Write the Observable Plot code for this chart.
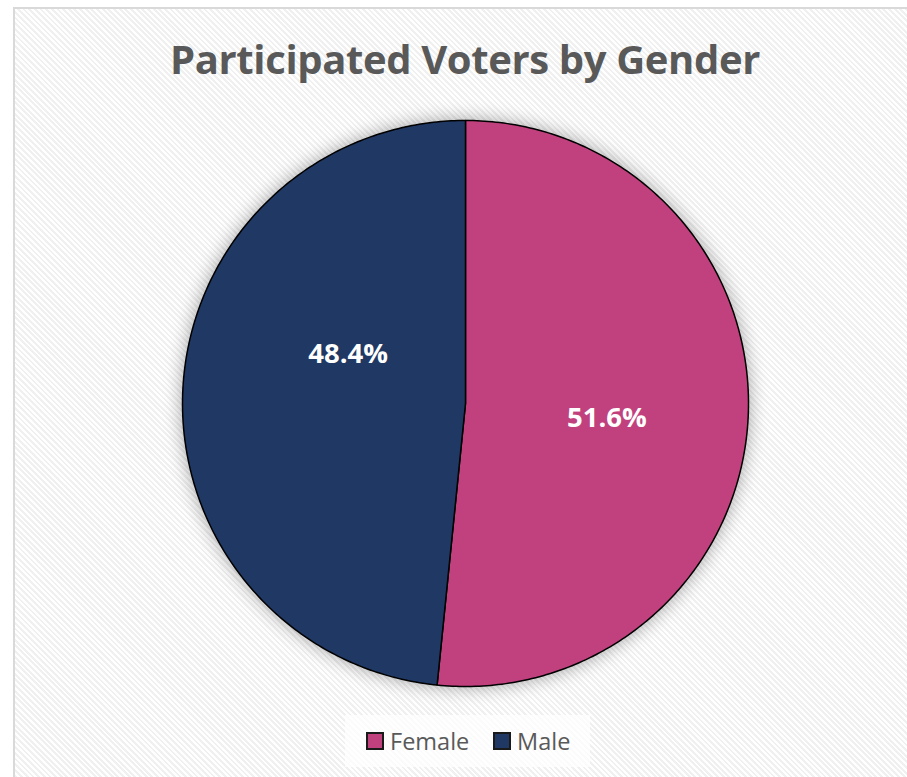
<!DOCTYPE html>
<html>
<head>
<meta charset="utf-8">
<script src="https://cdn.jsdelivr.net/npm/d3@7"></script>
<script src="https://cdn.jsdelivr.net/npm/@observablehq/plot@0.6"></script>
<style>
  html, body { margin: 0; padding: 0; background: #fff; }
  #root { position: relative; width: 907px; height: 777px; overflow: hidden; font-family: "Open Sans", sans-serif; }
  #frame { position: absolute; left: 13px; top: 7px; width: 960px; height: 820px;
    border: 2px solid #d9d9d9; box-sizing: border-box;
    background: repeating-linear-gradient(45deg, #ffffff 0px, #ffffff 2px, #f0f0f0 2px, #f0f0f0 4px); }
  #title { position: absolute; left: 0; width: 930px; top: 32px; text-align: center;
    font-weight: 700; font-size: 40px; line-height: 54px; color: #595959; white-space: nowrap; }
  #plot { position: absolute; left: 165px; top: 103px; }
  #legend { position: absolute; left: 345px; top: 715px; width: 245px; height: 52px;
    background: rgba(255,255,255,0.75); }
  .item { position: absolute; top: 0; height: 52px; display: flex; align-items: center;
    font-size: 23.5px; color: #595959; }
  .sw { width: 14px; height: 14px; border: 2px solid #1a1a1a; margin-right: 6px; }
</style>
</head>
<body>
<div id="root">
  <div id="frame"></div>
  <div id="title">Participated Voters by Gender</div>
  <div id="plot"></div>
  <div id="legend"></div>
</div>
<script>
const categories = ["Female", "Male"];
const shares = [51.6, 48.4];
const sliceLabels = ["51.6%", "48.4%"];
const colors = ["#C1417E", "#203864"];

const data = categories.map((c, i) => ({category: c, value: shares[i], label: sliceLabels[i]}));
const arcs = d3.pie().sort(null).value(d => d.value).startAngle(0).endAngle(2 * Math.PI)(data);

// Build slice outlines (unit radius) from the pie angles
const outline = [];
const labelPts = [];
for (const a of arcs) {
  const cat = a.data.category;
  outline.push({category: cat, x: 0, y: 0});
  const n = 240;
  for (let k = 0; k <= n; k++) {
    const t = a.startAngle + (a.endAngle - a.startAngle) * k / n;
    outline.push({category: cat, x: Math.sin(t), y: Math.cos(t)});
  }
  const mid = (a.startAngle + a.endAngle) / 2;
  labelPts.push({category: cat, label: a.data.label, x: 0.5 * Math.sin(mid), y: 0.5 * Math.cos(mid)});
}

const chart = Plot.plot({
  width: 600,
  height: 600,
  margin: 17,
  x: {domain: [-1, 1], axis: null},
  y: {domain: [-1, 1], axis: null},
  color: {domain: categories, range: colors},
  style: {background: "transparent", overflow: "visible"},
  marks: [
    Plot.line(outline, {x: "x", y: "y", z: "category", fill: "category", stroke: "#000", strokeWidth: 1.5, curve: "linear-closed"}),
    Plot.text(labelPts.filter(d => d.category === "Female"), {x: "x", y: "y", text: "label", fill: "#fff", fontSize: 27.5, fontWeight: "bold", fontFamily: "Open Sans", dy: 8}),
    Plot.text(labelPts.filter(d => d.category === "Male"), {x: "x", y: "y", text: "label", fill: "#fff", fontSize: 27.5, fontWeight: "bold", fontFamily: "Open Sans", dx: 24, dy: -42})
  ]
});
const lineG = chart.querySelector('g[aria-label="line"]');
if (lineG) lineG.style.filter = "drop-shadow(0px 0px 9px rgba(0,0,0,0.35))";
document.getElementById("plot").appendChild(chart);

// Legend
const legend = document.getElementById("legend");
const lefts = [21, 148];
categories.forEach((c, i) => {
  const item = document.createElement("div");
  item.className = "item";
  item.style.left = lefts[i] + "px";
  const sw = document.createElement("div");
  sw.className = "sw";
  sw.style.background = colors[i];
  item.appendChild(sw);
  item.appendChild(document.createTextNode(c));
  legend.appendChild(item);
});

// Fit title width to the reference width
const title = document.getElementById("title");
const span = document.createElement("span");
span.textContent = title.textContent;
title.textContent = "";
title.appendChild(span);
const w = span.getBoundingClientRect().width;
const target = 590;
const chars = span.textContent.length;
span.style.letterSpacing = ((target - w) / chars) + "px";
</script>
</body>
</html>
